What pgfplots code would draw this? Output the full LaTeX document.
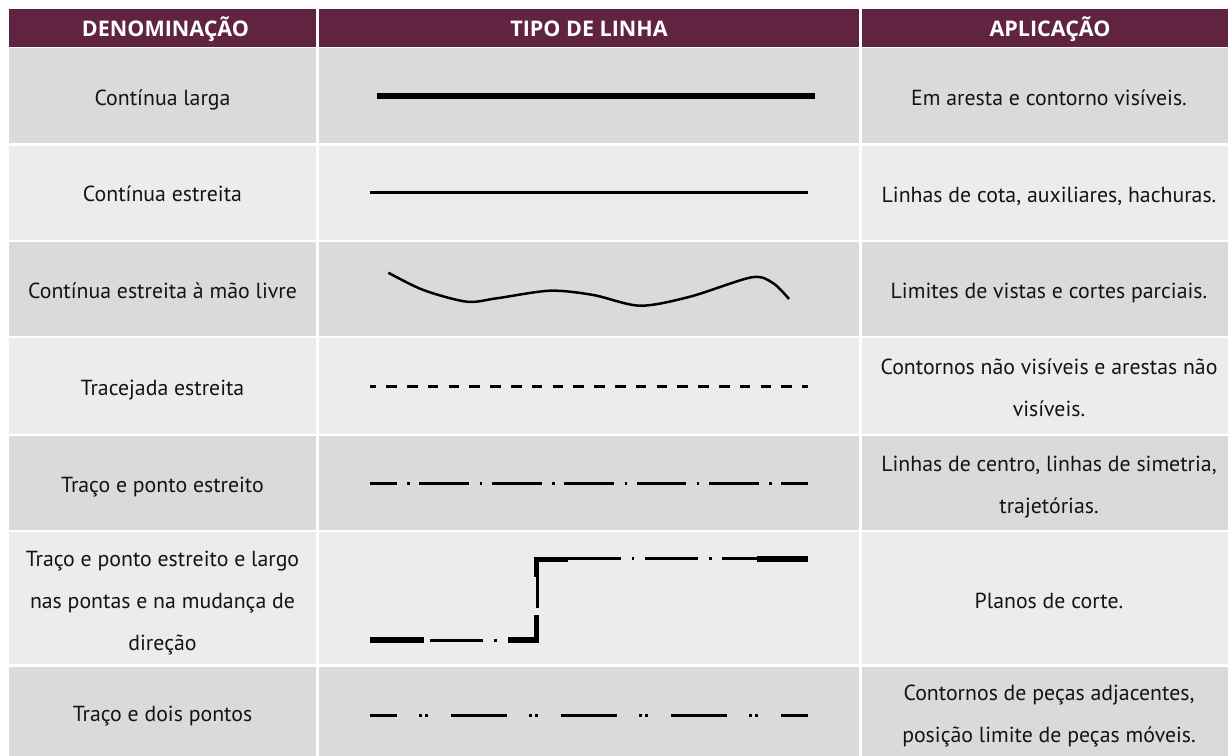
\documentclass[border=0pt]{standalone}
\usepackage{fontspec}
\setmainfont{PT Sans}
\newfontfamily\hdrfont{Open Sans}
\usepackage{pgfplots}
\pgfplotsset{compat=1.18}
\definecolor{hdr}{HTML}{602441}
\definecolor{rowd}{HTML}{D9DADC}
\definecolor{rowl}{HTML}{EBECEB}
\definecolor{txt}{HTML}{141414}
\newcommand{\cell}[5]{\addplot[fill=#1,draw=none] coordinates {(#2,#4) (#3,#4) (#3,#5) (#2,#5)};}
\newcommand{\rowcells}[3]{\cell{#1}{9}{316.3}{#2}{#3}\cell{#1}{318.7}{859.3}{#2}{#3}\cell{#1}{861.7}{1228}{#2}{#3}}
\begin{document}
\begin{tikzpicture}
\begin{axis}[width=1228bp,height=756bp,scale only axis,
  xmin=0,xmax=1228,ymin=0,ymax=756,y dir=reverse,hide axis,clip=false,
  every axis plot/.append style={mark=none,line cap=butt},
  nodes={font=\fontsize{21.8bp}{42bp}\selectfont, text=txt, inner sep=0pt}]
% background
\addplot[fill=white,draw=none] coordinates {(0,0) (1228,0) (1228,756) (0,756)};
% cells
\rowcells{hdr}{9}{46.8}
\rowcells{rowd}{48.4}{143.3}
\rowcells{rowl}{145.6}{240.3}
\rowcells{rowd}{242.3}{336}
\rowcells{rowl}{338}{434}
\rowcells{rowd}{436}{530}
\rowcells{rowl}{532.2}{664.3}
\rowcells{rowd}{666.8}{756}
% header text
\node[anchor=base,text=white,font=\hdrfont\bfseries\fontsize{21.5bp}{24bp}\selectfont] at (axis cs:165.5,36.5) {DENOMINAÇÃO};
\node[anchor=base,text=white,font=\hdrfont\bfseries\fontsize{21.5bp}{24bp}\selectfont] at (axis cs:589,36.5) {TIPO DE LINHA};
\node[anchor=base,text=white,font=\hdrfont\bfseries\fontsize{21.5bp}{24bp}\selectfont] at (axis cs:1050,36.5) {APLICAÇÃO};
% column 1
\node[anchor=base] at (axis cs:162.5,105.5) {Contínua larga};
\node[anchor=base] at (axis cs:162.5,202) {Contínua estreita};
\node[anchor=base] at (axis cs:162.5,298.7) {Contínua estreita à mão livre};
\node[anchor=base] at (axis cs:162.5,395.5) {Tracejada estreita};
\node[anchor=base] at (axis cs:162.5,492.5) {Traço e ponto estreito};
\node[anchor=base] at (axis cs:162.5,566.5) {Traço e ponto estreito e largo};
\node[anchor=base] at (axis cs:162.5,608.3) {nas pontas e na mudança de};
\node[anchor=base] at (axis cs:162.5,650) {direção};
\node[anchor=base] at (axis cs:162.5,721) {Traço e dois pontos};
% column 3
\node[anchor=base] at (axis cs:1049,105.5) {Em aresta e contorno visíveis.};
\node[anchor=base] at (axis cs:1049,202.3) {Linhas de cota, auxiliares, hachuras.};
\node[anchor=base] at (axis cs:1049,298.7) {Limites de vistas e cortes parciais.};
\node[anchor=base] at (axis cs:1049,374.5) {Contornos não visíveis e arestas não};
\node[anchor=base] at (axis cs:1049,416.5) {visíveis.};
\node[anchor=base] at (axis cs:1049,471.5) {Linhas de centro, linhas de simetria,};
\node[anchor=base] at (axis cs:1049,513.5) {trajetórias.};
\node[anchor=base] at (axis cs:1049,608.3) {Planos de corte.};
\node[anchor=base] at (axis cs:1049,700) {Contornos de peças adjacentes,};
\node[anchor=base] at (axis cs:1049,742) {posição limite de peças móveis.};
% row 1: continuous wide
\addplot[black,line width=6.3bp] coordinates {(377,95.8) (815,95.8)};
% row 2: continuous narrow
\addplot[black,line width=3bp] coordinates {(370,192.3) (808,192.3)};
% row 3: freehand
\addplot[black,line width=2.5bp,smooth] coordinates {(388.3,272.7) (423.3,290) (466.7,301.7) (496.7,298.3) (550,290.7) (593.3,295) (640,305.7) (690,296.7) (751.7,277.3) (773.3,283.3) (789,299)};
% row 4: dashed
\addplot[black,line width=3bp,dash pattern=on 10.7bp off 10.1bp,dash phase=4.7bp] coordinates {(370,386) (808,386)};
% row 5: dash-dot
\addplot[black,line width=3bp,dash pattern=on 49.7bp off 10.7bp on 2.3bp off 9.7bp,dash phase=23bp] coordinates {(370,483.3) (808,483.3)};
% row 6: cutting plane
\addplot[black,line width=6.5bp] coordinates {(370,640) (424,640)};
\addplot[black,line width=3bp] coordinates {(430,640) (483.3,640)};
\addplot[black,line width=3bp] coordinates {(494.3,640) (496.7,640)};
\addplot[black,line width=6.3bp] coordinates {(508.3,640) (539.3,640)};
\addplot[black,line width=5bp] coordinates {(536.8,643.1) (536.8,615)};
\addplot[black,line width=3bp] coordinates {(537.3,608.3) (537.3,576.7)};
\addplot[black,line width=5bp] coordinates {(536.8,576.7) (536.8,556.7)};
\addplot[black,line width=5bp] coordinates {(534.3,559.2) (567.7,559.2)};
\addplot[black,line width=3bp] coordinates {(567.7,558.7) (621,558.7)};
\addplot[black,line width=3bp] coordinates {(631.7,558.7) (634,558.7)};
\addplot[black,line width=3bp] coordinates {(645,558.7) (698.3,558.7)};
\addplot[black,line width=3bp] coordinates {(709.3,558.7) (711.7,558.7)};
\addplot[black,line width=3bp] coordinates {(722.3,558.7) (757.3,558.7)};
\addplot[black,line width=6bp] coordinates {(757.3,559) (808.3,559)};
% row 7: dash-double-dot
\addplot[black,line width=3bp,dash pattern=on 56bp off 22.7bp on 2.3bp off 3.7bp on 2.3bp off 23bp,dash phase=29.3bp] coordinates {(370,715) (808,715)};
\end{axis}
\end{tikzpicture}
\end{document}
